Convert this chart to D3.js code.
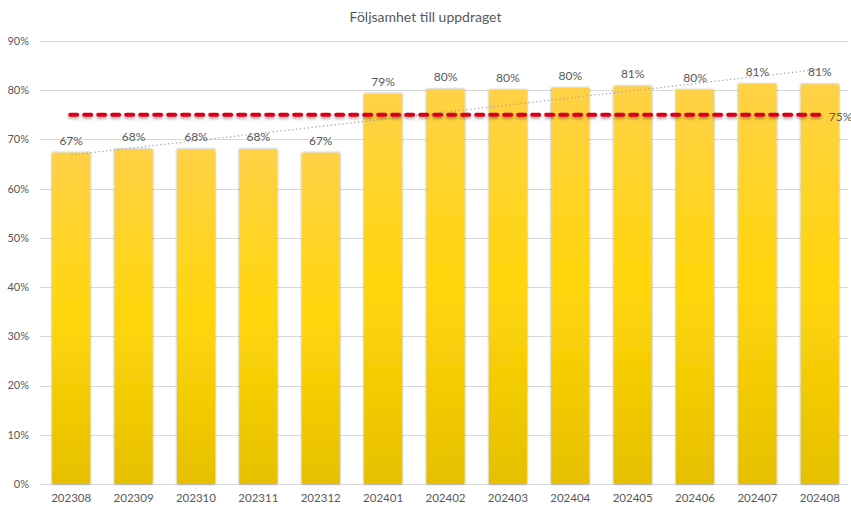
<!DOCTYPE html>
<html><head><meta charset="utf-8">
<script src="https://cdn.jsdelivr.net/npm/d3@7"></script>
<style>body{margin:0;background:#fff;font-family:Lato,"Open Sans",sans-serif}</style>
</head><body><svg id="c" width="851" height="505"></svg>
<script>
const title = "Följsamhet till uppdraget";
const categories = ["202308","202309","202310","202311","202312","202401","202402","202403","202404","202405","202406","202407","202408"];
const values = [67.3,68.0,68.0,68.0,67.3,79.3,80.2,80.1,80.5,80.8,80.1,81.3,81.2];
const labels = ["67%","68%","68%","68%","67%","79%","80%","80%","80%","81%","80%","81%","81%"];
const target = 75;
const targetLabel = "75%";
const yTicks = [0,10,20,30,40,50,60,70,80,90];

const svg = d3.select("#c");
const m = {l:40, r:0, t:41, b:21};
const W = 851, H = 505;
const x = d3.scaleBand().domain(categories).range([m.l, W - m.r]).paddingInner(0.39).paddingOuter(0.195);
const y = d3.scaleLinear().domain([0,90]).range([H - m.b, m.t]);

const defs = svg.append("defs");
const g = defs.append("linearGradient").attr("id","bg").attr("x1",0).attr("y1",0).attr("x2",0).attr("y2",1);
g.append("stop").attr("offset","0%").attr("stop-color","#ffd147");
g.append("stop").attr("offset","50%").attr("stop-color","#ffd60a");
g.append("stop").attr("offset","100%").attr("stop-color","#e6c000");
const f = defs.append("filter").attr("id","sh").attr("x","-20%").attr("y","-20%").attr("width","140%").attr("height","140%");
f.append("feDropShadow").attr("dx",0).attr("dy",0).attr("stdDeviation",1.3).attr("flood-color","#000").attr("flood-opacity",0.45);
const f2 = defs.append("filter").attr("id","sh2").attr("filterUnits","userSpaceOnUse")
  .attr("x",0).attr("y",0).attr("width",W).attr("height",H);
f2.append("feDropShadow").attr("dx",0).attr("dy",2).attr("stdDeviation",1.5).attr("flood-color","#000").attr("flood-opacity",0.35);

svg.append("text").attr("x",W/2).attr("y",22).attr("text-anchor","middle")
  .attr("font-size",14).attr("fill","#595959").text(title);

// grid
svg.append("g").selectAll("line").data(yTicks).join("line")
  .attr("x1",m.l).attr("x2",848).attr("y1",d=>Math.round(y(d))+0.5).attr("y2",d=>Math.round(y(d))+0.5)
  .attr("stroke","#d9d9d9").attr("stroke-width",1);

// y axis labels
svg.append("g").selectAll("text").data(yTicks).join("text")
  .attr("x",29).attr("y",d=>y(d)).attr("dy","0.35em").attr("text-anchor","end")
  .attr("font-size",11).attr("fill","#595959").text(d=>d+"%");

// bars
svg.append("g").selectAll("rect").data(values).join("rect")
  .attr("x",(d,i)=>x(categories[i])).attr("width",x.bandwidth())
  .attr("y",d=>y(d)).attr("height",d=>y(0)-y(d))
  .attr("fill","url(#bg)").attr("filter","url(#sh)");

// x labels
svg.append("g").selectAll("text").data(categories).join("text")
  .attr("x",d=>x(d)+x.bandwidth()/2).attr("y",H-3).attr("text-anchor","middle")
  .attr("font-size",11.5).attr("fill","#595959").text(d=>d);

// trend line (linear regression)
const n = values.length;
const xs = d3.range(n);
const mx = d3.mean(xs), my = d3.mean(values);
const slope = d3.sum(xs,i=>(i-mx)*(values[i]-my)) / d3.sum(xs,i=>(i-mx)*(i-mx));
const icpt = my - slope*mx;
const cx = i => x(categories[i]) + x.bandwidth()/2;
svg.append("line")
  .attr("x1",cx(0)).attr("y1",y(icpt)).attr("x2",cx(n-1)).attr("y2",y(icpt+slope*(n-1)))
  .attr("stroke","#a6a6a6").attr("stroke-width",1.3).attr("stroke-dasharray","1.3 2.6");

// target line
svg.append("line")
  .attr("x1",cx(0)-1).attr("x2",cx(n-1)+2).attr("y1",y(target)).attr("y2",y(target))
  .attr("stroke","#d9001b").attr("stroke-width",4).attr("stroke-linecap","round")
  .attr("stroke-dasharray","7 7").attr("filter","url(#sh2)");
svg.append("text").attr("x",cx(n-1)+9).attr("y",y(target)+2).attr("dy","0.35em")
  .attr("font-size",12).attr("fill","#595959").text(targetLabel);

// data labels
svg.append("g").selectAll("text").data(values).join("text")
  .attr("x",(d,i)=>cx(i)).attr("y",d=>y(d)-8).attr("text-anchor","middle")
  .attr("font-size",12).attr("fill","#595959").text((d,i)=>labels[i]);
</script></body></html>
